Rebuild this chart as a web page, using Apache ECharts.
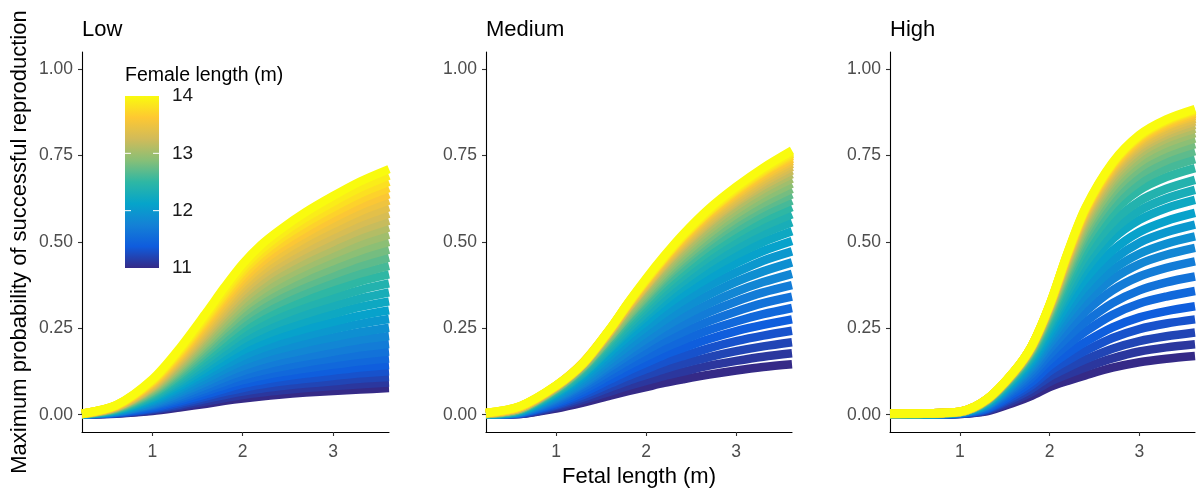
<!DOCTYPE html>
<html>
<head>
<meta charset="utf-8">
<script src="https://cdn.jsdelivr.net/npm/echarts@6/dist/echarts.min.js"></script>
<style>
html,body{margin:0;padding:0;background:#fff;}
#chart{width:1200px;height:490px;}
</style>
</head>
<body>
<div id="chart"></div>
<script>
// ---------- DATA ----------
const panelTitles = ['Low', 'Medium', 'High'];
const fetalLength = [0.22, 0.6, 1.0, 1.3, 1.6, 1.8, 2.0, 2.2, 2.4, 2.7, 3.0, 3.3, 3.62];
const femaleLength = [11.0, 11.1, 11.2, 11.3, 11.4, 11.5, 11.6, 11.7, 11.8, 11.9, 12.0, 12.1, 12.2, 12.3, 12.4, 12.5, 12.6, 12.7, 12.8, 12.9, 13.0, 13.1, 13.2, 13.3, 13.4, 13.5, 13.6, 13.7, 13.8, 13.9, 14.0];
const xTicks = [1, 2, 3];
const yTicks = [0, 0.25, 0.5, 0.75, 1];
const legendTicks = [11, 12, 13, 14];

const lowValues = [
[0.000,0.003,0.011,0.021,0.032,0.040,0.047,0.053,0.058,0.064,0.069,0.073,0.077],
[0.000,0.004,0.013,0.025,0.039,0.048,0.057,0.064,0.070,0.077,0.083,0.088,0.093],
[0.000,0.004,0.016,0.029,0.046,0.057,0.067,0.075,0.082,0.090,0.097,0.104,0.109],
[0.001,0.005,0.018,0.034,0.053,0.066,0.077,0.087,0.095,0.104,0.112,0.120,0.126],
[0.001,0.006,0.021,0.039,0.060,0.075,0.089,0.099,0.108,0.119,0.128,0.137,0.144],
[0.001,0.007,0.024,0.044,0.068,0.085,0.100,0.112,0.122,0.134,0.145,0.155,0.163],
[0.001,0.007,0.027,0.049,0.076,0.095,0.113,0.126,0.137,0.151,0.163,0.174,0.183],
[0.001,0.008,0.030,0.055,0.086,0.107,0.126,0.141,0.154,0.169,0.182,0.195,0.205],
[0.001,0.009,0.033,0.062,0.095,0.119,0.140,0.157,0.171,0.188,0.203,0.217,0.228],
[0.001,0.010,0.037,0.068,0.105,0.131,0.155,0.174,0.189,0.208,0.224,0.239,0.252],
[0.001,0.011,0.040,0.075,0.116,0.144,0.170,0.191,0.208,0.229,0.247,0.263,0.277],
[0.001,0.012,0.044,0.082,0.126,0.157,0.186,0.208,0.227,0.249,0.269,0.287,0.302],
[0.001,0.013,0.048,0.089,0.137,0.171,0.202,0.226,0.246,0.271,0.292,0.312,0.328],
[0.001,0.014,0.051,0.096,0.148,0.184,0.218,0.244,0.266,0.292,0.315,0.336,0.354],
[0.002,0.015,0.055,0.103,0.159,0.198,0.234,0.262,0.285,0.314,0.338,0.361,0.380],
[0.002,0.016,0.059,0.110,0.170,0.211,0.250,0.280,0.305,0.335,0.361,0.386,0.406],
[0.002,0.017,0.062,0.116,0.180,0.224,0.265,0.297,0.323,0.356,0.384,0.409,0.431],
[0.002,0.018,0.066,0.123,0.190,0.237,0.280,0.314,0.341,0.375,0.405,0.432,0.455],
[0.002,0.019,0.069,0.129,0.200,0.249,0.294,0.330,0.359,0.394,0.425,0.454,0.478],
[0.002,0.020,0.073,0.135,0.209,0.260,0.308,0.345,0.375,0.413,0.445,0.475,0.500],
[0.002,0.021,0.076,0.141,0.218,0.271,0.320,0.359,0.391,0.430,0.464,0.495,0.521],
[0.002,0.022,0.079,0.146,0.227,0.282,0.333,0.374,0.407,0.447,0.482,0.515,0.542],
[0.002,0.022,0.081,0.152,0.235,0.292,0.346,0.388,0.422,0.464,0.500,0.534,0.562],
[0.002,0.023,0.084,0.157,0.243,0.303,0.358,0.402,0.437,0.480,0.518,0.553,0.582],
[0.002,0.024,0.087,0.162,0.251,0.313,0.370,0.415,0.451,0.496,0.535,0.571,0.601],
[0.002,0.025,0.090,0.167,0.259,0.322,0.381,0.428,0.465,0.512,0.552,0.589,0.620],
[0.003,0.026,0.093,0.172,0.267,0.332,0.392,0.440,0.479,0.526,0.568,0.606,0.638],
[0.003,0.026,0.095,0.177,0.274,0.341,0.403,0.453,0.492,0.541,0.584,0.623,0.656],
[0.003,0.027,0.098,0.182,0.282,0.350,0.415,0.465,0.506,0.556,0.600,0.640,0.674],
[0.003,0.028,0.100,0.187,0.289,0.360,0.426,0.477,0.519,0.571,0.616,0.657,0.692],
[0.003,0.028,0.103,0.192,0.297,0.370,0.437,0.491,0.533,0.587,0.633,0.675,0.711]
];

const mediumValues = [
[0.000,0.002,0.018,0.035,0.055,0.068,0.080,0.092,0.102,0.116,0.128,0.138,0.146],
[0.000,0.002,0.022,0.043,0.067,0.083,0.098,0.112,0.124,0.142,0.156,0.168,0.178],
[0.000,0.003,0.026,0.050,0.079,0.098,0.115,0.132,0.147,0.167,0.184,0.198,0.210],
[0.000,0.004,0.029,0.057,0.090,0.112,0.132,0.152,0.169,0.193,0.213,0.229,0.243],
[0.000,0.005,0.033,0.064,0.102,0.127,0.150,0.173,0.192,0.219,0.242,0.260,0.276],
[0.000,0.005,0.037,0.072,0.114,0.142,0.168,0.193,0.215,0.245,0.270,0.291,0.309],
[0.000,0.006,0.041,0.080,0.126,0.157,0.186,0.214,0.238,0.271,0.299,0.323,0.342],
[0.000,0.006,0.045,0.087,0.138,0.172,0.204,0.234,0.261,0.297,0.328,0.354,0.375],
[0.001,0.008,0.049,0.092,0.147,0.184,0.219,0.253,0.283,0.322,0.356,0.384,0.408],
[0.001,0.009,0.052,0.099,0.159,0.199,0.237,0.273,0.306,0.348,0.385,0.415,0.441],
[0.001,0.009,0.056,0.106,0.170,0.214,0.254,0.293,0.328,0.374,0.412,0.446,0.473],
[0.001,0.010,0.060,0.113,0.181,0.227,0.270,0.312,0.349,0.397,0.439,0.474,0.503],
[0.001,0.011,0.063,0.119,0.191,0.240,0.285,0.329,0.368,0.419,0.463,0.500,0.531],
[0.002,0.013,0.065,0.121,0.196,0.248,0.296,0.343,0.384,0.439,0.485,0.524,0.557],
[0.002,0.014,0.068,0.126,0.204,0.258,0.309,0.357,0.400,0.457,0.505,0.545,0.580],
[0.002,0.014,0.070,0.131,0.212,0.268,0.320,0.370,0.414,0.473,0.523,0.565,0.601],
[0.002,0.015,0.073,0.135,0.218,0.276,0.330,0.382,0.427,0.488,0.539,0.583,0.620],
[0.002,0.015,0.075,0.139,0.225,0.284,0.339,0.393,0.440,0.502,0.555,0.600,0.638],
[0.003,0.018,0.075,0.138,0.225,0.287,0.345,0.400,0.449,0.513,0.568,0.613,0.654],
[0.003,0.018,0.077,0.141,0.230,0.294,0.353,0.409,0.459,0.525,0.581,0.628,0.669],
[0.003,0.018,0.079,0.144,0.235,0.300,0.360,0.417,0.469,0.536,0.593,0.641,0.683],
[0.003,0.019,0.080,0.147,0.239,0.306,0.367,0.425,0.477,0.546,0.604,0.653,0.696],
[0.004,0.019,0.081,0.149,0.243,0.310,0.373,0.432,0.485,0.555,0.614,0.663,0.707],
[0.004,0.022,0.081,0.146,0.240,0.310,0.374,0.435,0.490,0.561,0.620,0.672,0.717],
[0.004,0.022,0.082,0.147,0.243,0.314,0.378,0.440,0.496,0.568,0.628,0.680,0.726],
[0.004,0.022,0.083,0.149,0.246,0.317,0.382,0.445,0.501,0.575,0.635,0.688,0.734],
[0.004,0.022,0.084,0.150,0.248,0.320,0.386,0.449,0.506,0.580,0.641,0.694,0.741],
[0.004,0.022,0.085,0.152,0.249,0.323,0.390,0.453,0.511,0.586,0.647,0.701,0.748],
[0.005,0.025,0.084,0.148,0.247,0.320,0.389,0.453,0.513,0.588,0.651,0.705,0.754],
[0.005,0.025,0.084,0.149,0.248,0.323,0.392,0.456,0.516,0.592,0.655,0.710,0.759],
[0.005,0.025,0.085,0.150,0.250,0.325,0.395,0.460,0.520,0.597,0.660,0.715,0.765]
];

const highValues = [
[0.000,0.000,0.002,0.010,0.035,0.055,0.080,0.098,0.114,0.136,0.152,0.162,0.170],
[0.000,0.000,0.002,0.012,0.041,0.065,0.095,0.117,0.137,0.163,0.183,0.195,0.204],
[0.000,0.000,0.003,0.014,0.048,0.075,0.110,0.136,0.160,0.191,0.213,0.227,0.238],
[0.000,0.000,0.003,0.016,0.054,0.085,0.126,0.157,0.185,0.222,0.248,0.264,0.276],
[0.001,0.001,0.004,0.018,0.061,0.095,0.141,0.178,0.211,0.253,0.282,0.300,0.314],
[0.001,0.001,0.004,0.020,0.068,0.107,0.158,0.202,0.241,0.289,0.322,0.342,0.358],
[0.001,0.001,0.005,0.023,0.074,0.117,0.174,0.225,0.269,0.323,0.360,0.383,0.400],
[0.001,0.001,0.005,0.025,0.080,0.127,0.190,0.248,0.299,0.360,0.400,0.425,0.444],
[0.001,0.001,0.005,0.027,0.086,0.136,0.204,0.269,0.326,0.392,0.436,0.463,0.483],
[0.001,0.001,0.006,0.028,0.090,0.143,0.216,0.286,0.348,0.419,0.466,0.495,0.516],
[0.001,0.001,0.006,0.030,0.094,0.150,0.227,0.304,0.371,0.447,0.498,0.528,0.550],
[0.001,0.002,0.006,0.032,0.098,0.156,0.238,0.321,0.394,0.475,0.529,0.561,0.584],
[0.001,0.002,0.007,0.034,0.103,0.163,0.250,0.341,0.420,0.508,0.564,0.598,0.622],
[0.001,0.002,0.007,0.035,0.105,0.168,0.259,0.355,0.440,0.532,0.591,0.626,0.651],
[0.001,0.002,0.007,0.036,0.109,0.173,0.267,0.370,0.460,0.556,0.618,0.654,0.680],
[0.002,0.003,0.007,0.038,0.112,0.178,0.277,0.387,0.483,0.585,0.650,0.688,0.714],
[0.002,0.003,0.008,0.039,0.114,0.182,0.284,0.400,0.501,0.607,0.674,0.713,0.740],
[0.002,0.003,0.008,0.040,0.116,0.185,0.291,0.411,0.517,0.626,0.695,0.736,0.763],
[0.002,0.003,0.008,0.041,0.117,0.188,0.296,0.420,0.530,0.643,0.714,0.755,0.783],
[0.002,0.004,0.008,0.042,0.119,0.190,0.300,0.429,0.542,0.658,0.730,0.771,0.800],
[0.002,0.004,0.008,0.042,0.120,0.192,0.304,0.436,0.552,0.671,0.744,0.786,0.815],
[0.002,0.004,0.008,0.043,0.121,0.194,0.307,0.443,0.561,0.681,0.756,0.799,0.828],
[0.003,0.004,0.008,0.043,0.122,0.195,0.310,0.448,0.569,0.691,0.767,0.810,0.839],
[0.003,0.004,0.008,0.044,0.122,0.196,0.312,0.453,0.576,0.700,0.776,0.819,0.849],
[0.003,0.004,0.009,0.044,0.123,0.197,0.314,0.457,0.581,0.706,0.783,0.827,0.857],
[0.003,0.004,0.009,0.044,0.124,0.198,0.315,0.460,0.586,0.712,0.790,0.835,0.864],
[0.003,0.004,0.009,0.045,0.124,0.199,0.316,0.463,0.590,0.717,0.795,0.840,0.870],
[0.003,0.004,0.009,0.045,0.124,0.199,0.317,0.465,0.593,0.721,0.800,0.845,0.875],
[0.003,0.004,0.009,0.045,0.124,0.199,0.318,0.467,0.596,0.725,0.804,0.849,0.879],
[0.003,0.004,0.009,0.045,0.125,0.200,0.319,0.468,0.598,0.727,0.806,0.852,0.882],
[0.003,0.004,0.009,0.045,0.125,0.200,0.320,0.470,0.600,0.730,0.810,0.855,0.885]
];

// ---------- STYLE / LAYOUT ----------
const FONT = '"Liberation Sans", Arial, Helvetica, sans-serif';
const parula = ['#352a87','#0f5cdd','#1481d6','#06a4ca','#2eb7a4','#87bf77','#d1bb59','#fec832','#f9fb0e'];
function hexToRgb(h){return [parseInt(h.slice(1,3),16),parseInt(h.slice(3,5),16),parseInt(h.slice(5,7),16)];}
function colorAt(t){
  t = Math.max(0, Math.min(1, t));
  const n = parula.length - 1;
  const i = Math.min(n - 1, Math.floor(t * n));
  const f = t * n - i;
  const a = hexToRgb(parula[i]), b = hexToRgb(parula[i + 1]);
  const c = a.map((v, j) => Math.round(v + (b[j] - v) * f));
  return 'rgb(' + c.join(',') + ')';
}
const lMin = femaleLength[0], lMax = femaleLength[femaleLength.length - 1];

const grids = [
  {left: 82, top: 52, width: 307, height: 380, containLabel: false, outerBoundsMode: 'none'},
  {left: 486, top: 52, width: 306, height: 380, containLabel: false, outerBoundsMode: 'none'},
  {left: 890, top: 52, width: 305, height: 380, containLabel: false, outerBoundsMode: 'none'}
];
const panelData = [lowValues, mediumValues, highValues];

const xAxes = [], yAxes = [], series = [], titles = [];
grids.forEach((g, gi) => {
  xAxes.push({
    type: 'value', gridIndex: gi, min: 0.22, max: 3.62,
    splitLine: {show: false},
    axisLine: {onZero: false, lineStyle: {color: '#000', width: 1.1}},
    axisTick: {customValues: xTicks, length: 4, lineStyle: {color: '#333', width: 1.1}},
    axisLabel: {customValues: xTicks, color: '#4d4d4d', fontSize: 17.5, fontFamily: FONT, margin: 11},
    name: gi === 1 ? 'Fetal length (m)' : '',
    nameLocation: 'middle', nameGap: 34,
    nameTextStyle: {fontSize: 22, color: '#000', fontFamily: FONT}
  });
  yAxes.push({
    type: 'value', gridIndex: gi, min: -0.05, max: 1.05,
    splitLine: {show: false},
    axisLine: {show: true, onZero: false, lineStyle: {color: '#000', width: 1.1}},
    axisTick: {show: true, customValues: yTicks, length: 4, lineStyle: {color: '#333', width: 1.1}},
    axisLabel: {customValues: yTicks, color: '#4d4d4d', fontSize: 17.5, fontFamily: FONT, margin: 9,
      formatter: v => v.toFixed(2)},
    name: gi === 0 ? 'Maximum probability of successful reproduction' : '',
    nameLocation: 'middle', nameGap: 51, nameRotate: 90,
    nameTextStyle: {fontSize: 22, color: '#000', fontFamily: FONT}
  });
  titles.push({
    text: panelTitles[gi], left: g.left, top: 19, padding: 0,
    textStyle: {fontSize: 22, fontWeight: 'normal', color: '#000', fontFamily: FONT}
  });
  panelData[gi].forEach((row, k) => {
    const L = femaleLength[k];
    series.push({
      type: 'line', xAxisIndex: gi, yAxisIndex: gi,
      data: row.map((v, j) => [fetalLength[j], v]),
      showSymbol: false, symbol: 'none',
      smooth: 0.3,
      lineStyle: {width: 8.5, color: colorAt((L - lMin) / (lMax - lMin)), cap: 'butt', join: 'round'},
      silent: true, animation: false, clip: true
    });
  });
});

// ---------- COLOUR BAR LEGEND ----------
const bar = {x: 125, y: 96, w: 34, h: 172};
const graphics = [];
graphics.push({
  type: 'text', left: 125, top: 66,
  style: {text: 'Female length (m)', fontSize: 19.5, fontFamily: FONT, fill: '#000'}
});
const stops = parula.map((c, i) => ({offset: 1 - i / (parula.length - 1), color: c})).reverse();
graphics.push({
  type: 'rect', shape: {x: bar.x, y: bar.y, width: bar.w, height: bar.h},
  style: {fill: new echarts.graphic.LinearGradient(0, 0, 0, 1, stops)}
});
legendTicks.forEach(v => {
  const yy = bar.y + (lMax - v) / (lMax - lMin) * bar.h;
  if (v > lMin && v < lMax) {
    graphics.push({type: 'line', shape: {x1: bar.x, y1: yy, x2: bar.x + 6, y2: yy}, style: {stroke: '#fff', lineWidth: 1}});
    graphics.push({type: 'line', shape: {x1: bar.x + bar.w - 6, y1: yy, x2: bar.x + bar.w, y2: yy}, style: {stroke: '#fff', lineWidth: 1}});
  }
  graphics.push({
    type: 'text', x: bar.x + bar.w + 13, y: yy,
    style: {text: String(v), fontSize: 19, fontFamily: FONT, fill: '#1a1a1a', verticalAlign: 'middle', align: 'left'}
  });
});

const chart = echarts.init(document.getElementById('chart'), null, {renderer: 'canvas'});
chart.setOption({
  animation: false,
  backgroundColor: '#fff',
  title: titles,
  grid: grids,
  xAxis: xAxes,
  yAxis: yAxes,
  series: series,
  graphic: graphics
});
</script>
</body>
</html>
